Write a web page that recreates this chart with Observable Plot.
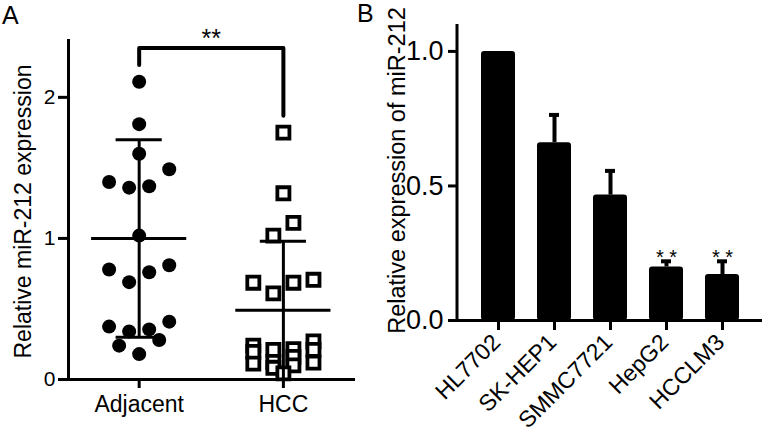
<!DOCTYPE html>
<html>
<head>
<meta charset="utf-8">
<script src="https://cdn.jsdelivr.net/npm/d3@7"></script>
<script src="https://cdn.jsdelivr.net/npm/@observablehq/plot@0.6"></script>
<style>
  html, body { margin: 0; padding: 0; background: #fff; }
  #fig { position: relative; width: 768px; height: 436px; overflow: hidden; font-family: "Liberation Sans", Arial, sans-serif; color: #000; }
  #fig .panel { position: absolute; top: 0; }
  #fig .letter { position: absolute; font-size: 25px; line-height: 1; }
</style>
</head>
<body>
<div id="fig">
  <div class="letter" style="left:2px;top:3px;">A</div>
  <div class="letter" style="left:357px;top:1px;">B</div>
  <div class="panel" id="panelA" style="left:0px;"></div>
  <div class="panel" id="panelB" style="left:390px;"></div>
</div>
<script>
// ---------- Panel A data ----------
const groups = ["Adjacent", "HCC"];
const adjacentValues = [2.11, 1.81, 1.60, 1.49, 1.40, 1.37, 1.36, 1.02, 0.81, 0.78, 0.76, 0.69, 0.41, 0.375, 0.355, 0.34, 0.28, 0.24, 0.18];
const hccValues = [1.75, 1.32, 1.11, 1.02, 0.707, 0.686, 0.686, 0.61, 0.27, 0.24, 0.215, 0.21, 0.21, 0.196, 0.16, 0.125, 0.12, 0.113, 0.10, 0.083, 0.043];
const groupMeans = [1.0, 0.49];
const groupSDs = [0.70, 0.49];
const panelATicks = [0, 1, 2];
const panelATitle = "Relative miR-212 expression";
const significanceA = "**";

// ---------- Panel B data ----------
const cellLines = ["HL7702", "SK-HEP1", "SMMC7721", "HepG2", "HCCLM3"];
const cellMeans = [1.0, 0.661, 0.466, 0.199, 0.171];
const cellErrors = [0, 0.103, 0.09, 0.021, 0.049];
const cellSignif = ["", "", "", "* *", "* *"];
const panelBTicks = [0, 0.5, 1.0];
const panelBTitle = "Relative expression of miR-212";

const FONT = "'Liberation Sans', Arial, sans-serif";

// scatter layout: rows of nearby values spread symmetrically (like a column scatter)
function columnScatter(values, gi, stepUnits) {
  const sorted = values.map(v => v).sort((a, b) => b - a);
  const rows = [];
  let cur = [];
  for (const v of sorted) {
    if (cur.length && (cur[cur.length - 1] - v > 0.1 || cur.length >= 4)) { rows.push(cur); cur = []; }
    cur.push(v);
  }
  if (cur.length) rows.push(cur);
  const out = [];
  for (const row of rows) {
    const n = row.length;
    const slots = d3.range(n).map(k => (k - (n - 1) / 2) * stepUnits);
    slots.sort((a, b) => Math.abs(b) - Math.abs(a) || b - a);
    row.forEach((v, k) => out.push({ group: groups[gi], gi, value: v, x: gi + slots[k] }));
  }
  return out;
}

const xDomA = [-0.49, 1.5];
const step = 0.139;
const adjPts = columnScatter(adjacentValues, 0, step);
const hccPts = columnScatter(hccValues, 1, step);
const stats = groups.map((g, i) => ({ group: g, gi: i, mean: groupMeans[i], sd: groupSDs[i] }));
const caps = stats.flatMap(s => [{ gi: s.gi, y: s.mean - s.sd }, { gi: s.gi, y: s.mean + s.sd }]);
const maxA = d3.max(adjacentValues), maxH = d3.max(hccValues);
const bTop = Math.max(maxA, maxH) + 0.24;
const bracket = [
  { x: 0, y: maxA + 0.12 }, { x: 0, y: bTop }, { x: 1, y: bTop }, { x: 1, y: maxH + 0.12 }
];

const plotA = Plot.plot({
  width: 390, height: 436,
  marginLeft: 68, marginRight: 35, marginTop: 39, marginBottom: 57,
  x: { domain: xDomA, axis: null },
  y: { domain: [0, 2.41], axis: null },
  style: { fontFamily: FONT, color: "#000", background: "transparent", overflow: "visible" },
  marks: [
    Plot.dot(adjPts, { x: "x", y: "value", r: 7, fill: "black" }),
    Plot.dot(hccPts, { x: "x", y: "value", r: 6.8, symbol: "square", fill: "white", stroke: "black", strokeWidth: 3.8 }),
    Plot.ruleY(stats, { y: "mean", x1: d => d.gi - 0.33, x2: d => d.gi + 0.33, strokeWidth: 3 }),
    Plot.ruleX(stats, { x: "gi", y1: d => d.mean - d.sd, y2: d => d.mean + d.sd, strokeWidth: 3 }),
    Plot.ruleY(caps, { y: "y", x1: d => d.gi - 0.16, x2: d => d.gi + 0.16, strokeWidth: 3 }),
    Plot.line(bracket, { x: "x", y: "y", strokeWidth: 4, strokeLinejoin: "round" }),
    Plot.text([significanceA], { x: [0.5], y: [bTop], text: d => d, dy: -1, lineAnchor: "bottom", fontSize: 25 }),
    Plot.ruleY([0], { strokeWidth: 3 }),
    Plot.ruleX([xDomA[0]], { strokeWidth: 3 }),
    Plot.axisY({ ticks: panelATicks, tickFormat: d => String(d), tickSize: 10, tickPadding: 3, strokeWidth: 3, fontSize: 21, label: null }),
    Plot.axisX({ ticks: [0, 1], tickFormat: i => groups[i], tickSize: 9, tickPadding: 7, strokeWidth: 3, fontSize: 23, label: null }),
    Plot.text([panelATitle], { frameAnchor: "left", rotate: -90, dx: -54, dy: 2, lineAnchor: "top", textAnchor: "middle", fontSize: 23, text: d => d })
  ]
});
document.getElementById("panelA").appendChild(plotA);

// ---------- Panel B ----------
const cellData = cellLines.map((c, i) => ({ cell: c, mean: cellMeans[i], err: cellErrors[i], sig: cellSignif[i] }));
const withErr = cellData.filter(d => d.err > 0);

function leftAxisLine(index, scales, values, dimensions) {
  const ns = "http://www.w3.org/2000/svg";
  const line = document.createElementNS(ns, "line");
  const x = dimensions.marginLeft;
  line.setAttribute("x1", x); line.setAttribute("x2", x);
  line.setAttribute("y1", dimensions.marginTop);
  line.setAttribute("y2", dimensions.height - dimensions.marginBottom + 1.5);
  line.setAttribute("stroke", "black");
  line.setAttribute("stroke-width", 3);
  return line;
}

const plotB = Plot.plot({
  width: 378, height: 436,
  marginLeft: 67, marginRight: 6, marginTop: 24, marginBottom: 116,
  x: { domain: cellLines, padding: 0.4, axis: null },
  y: { domain: [0, 1.1], axis: null },
  style: { fontFamily: FONT, color: "#000", background: "transparent", overflow: "visible" },
  marks: [
    Plot.barY(cellData, { x: "cell", y: "mean", fill: "black", rx: 3 }),
    Plot.ruleX(withErr, { x: "cell", y1: "mean", y2: d => d.mean + d.err, strokeWidth: 4 }),
    Plot.tickY(withErr, { x: "cell", y: d => d.mean + d.err, strokeWidth: 4, insetLeft: 12, insetRight: 12 }),
    Plot.text(cellData.filter(d => d.sig), { x: "cell", y: d => d.mean + d.err, text: "sig", dy: 3, lineAnchor: "bottom", fontSize: 20 }),
    Plot.ruleY([0], { strokeWidth: 3 }),
    leftAxisLine,
    Plot.axisY({ ticks: panelBTicks, tickFormat: d3.format(".1f"), tickSize: 9, tickPadding: 5, strokeWidth: 3, fontSize: 27, label: null }),
    Plot.axisX({ tickSize: 10, text: null, strokeWidth: 3, label: null }),
    Plot.axisX({ tickSize: 0, tickPadding: 18, dx: -2, tickRotate: -45, fontSize: 23, label: null }),
    Plot.text([panelBTitle], { frameAnchor: "left", rotate: -90, dx: -69, dy: -2, lineAnchor: "top", textAnchor: "middle", fontSize: 23.5, text: d => d })
  ]
});
document.getElementById("panelB").appendChild(plotB);
</script>
</body>
</html>
